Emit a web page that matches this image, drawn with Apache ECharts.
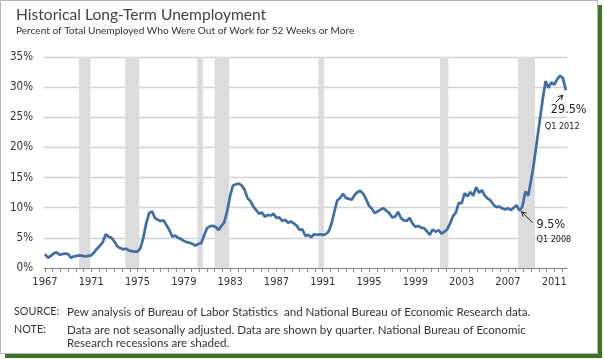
<!DOCTYPE html>
<html>
<head>
<meta charset="utf-8">
<script src="https://cdn.jsdelivr.net/npm/echarts@6/dist/echarts.min.js"></script>
<style>
html,body{margin:0;padding:0;background:#fff;}
#c{width:604px;height:359px;}
</style>
</head>
<body>
<div id="c"></div>
<script>
// ---- data ----
const startYear = 1967; // first quarter: 1967 Q1, quarterly through 2012 Q1
const longTermShare = [
  2.3, 1.7, 2.0, 2.4, 2.6, 2.2, 2.3, 2.4, 2.3, 1.7,
  1.9, 2.0, 2.1, 2.0, 1.9, 2.0, 2.1, 2.6, 3.2, 3.7,
  4.3, 5.6, 5.2, 5.0, 4.4, 3.6, 3.3, 3.1, 3.2, 2.9,
  2.8, 2.7, 2.7, 3.3, 5.0, 7.4, 9.1, 9.4, 8.3, 8.0,
  7.8, 7.9, 7.1, 6.3, 5.2, 5.4, 5.0, 4.8, 4.5, 4.3,
  4.2, 4.0, 3.7, 4.0, 4.1, 5.4, 6.6, 6.9, 7.0, 6.8,
  6.3, 7.0, 7.6, 9.5, 12.0, 13.7, 13.9, 14.0, 13.7, 13.0,
  11.6, 11.1, 10.2, 9.6, 9.0, 9.2, 8.5, 8.8, 8.7, 9.0,
  8.3, 8.4, 7.8, 8.0, 7.5, 7.7, 7.4, 7.0, 6.3, 6.4,
  5.3, 5.5, 5.1, 5.6, 5.5, 5.6, 5.5, 5.6, 6.0, 7.3,
  9.3, 11.2, 11.6, 12.3, 11.6, 11.5, 11.3, 12.1, 12.6, 12.8,
  12.3, 11.4, 10.3, 9.8, 9.1, 9.4, 9.7, 9.9, 9.5, 9.1,
  8.4, 8.5, 9.3, 8.3, 7.9, 7.8, 8.3, 7.4, 6.8, 7.0,
  6.7, 6.6, 6.1, 5.5, 6.4, 6.0, 6.3, 5.7, 6.0, 6.4,
  7.4, 8.6, 9.2, 10.8, 10.7, 12.4, 11.9, 12.6, 12.0, 13.4,
  12.5, 12.9, 12.0, 11.5, 11.2, 10.5, 10.1, 10.2, 9.9, 9.7,
  9.9, 9.6, 10.0, 10.4, 9.5, 10.2, 12.7, 12.0, 14.6, 17.5,
  21.0, 24.5, 28.0, 31.0, 29.9, 30.8, 30.4, 31.3, 31.9, 31.5, 29.5
];
// NBER recessions (start, end as fractional years, as shaded in the chart)
const recessions = [
  [1969.95, 1970.93], [1973.93, 1975.15], [1980.17, 1980.65], [1981.65, 1982.92],
  [1990.62, 1991.10], [2001.13, 2001.85], [2007.88, 2009.34]
];
const xTickLabels = [1967, 1971, 1975, 1979, 1983, 1987, 1991, 1995, 1999, 2003, 2007, 2011];
const yTicks = [0, 5, 10, 15, 20, 25, 30, 35];
const annotations = [
  { index: 164, value: '9.5%', period: 'Q1 2008' },
  { index: 180, value: '29.5%', period: 'Q1 2012' }
];
const titleText = 'Historical Long-Term Unemployment';
const subtitleText = 'Percent of Total Unemployed Who Were Out of Work for 52 Weeks or More';
const sourceText = 'Pew analysis of Bureau of Labor Statistics  and National Bureau of Economic Research data.';
const noteLines = ['Data are not seasonally adjusted. Data are shown by quarter. National Bureau of Economic', 'Research recessions are shaded.'];

// ---- build ----
const seriesData = longTermShare.map((v, i) => [startYear + i / 4, v]);
const minorTicks = [];
for (let k = 0; k <= 68; k++) minorTicks.push(startYear + k * 2 / 3);

const narrow = "'Liberation Sans Narrow', 'DejaVu Sans Condensed', Lato, sans-serif";
const chart = echarts.init(document.getElementById('c'), null, { renderer: 'canvas' });

chart.setOption({
  animation: false,
  backgroundColor: '#fff',
  title: {
    text: titleText,
    subtext: subtitleText,
    left: 11, top: 2,
    itemGap: 3,
    textStyle: { fontFamily: 'Lato', fontSize: 15.6, fontWeight: 'normal', color: '#444' },
    subtextStyle: { fontFamily: 'Lato', fontSize: 10.1, color: '#333' }
  },
  grid: { left: 44, right: 37, top: 57, bottom: 91, containLabel: false },
  xAxis: {
    type: 'value', min: 1966.92, max: 2012.1,
    splitLine: { show: false },
    axisLine: { show: true, lineStyle: { color: '#8a8a8a', width: 1 } },
    axisTick: { show: true, customValues: minorTicks, length: 4, lineStyle: { color: '#8a8a8a' } },
    axisLabel: { customValues: xTickLabels, fontFamily: narrow, fontSize: 11, color: '#333', margin: 9,
      formatter: v => String(Math.round(v)) }
  },
  yAxis: {
    type: 'value', min: 0, max: 35, interval: 5,
    axisLine: { show: false }, axisTick: { show: false },
    splitLine: { lineStyle: { color: '#d2d2d2', width: 1.3 } },
    axisLabel: { fontFamily: narrow, fontSize: 11.5, color: '#333', margin: 11, formatter: '{value}%' }
  },
  series: [
    {
      type: 'line', data: [], silent: true, z: 1,
      markArea: {
        silent: true,
        itemStyle: { color: '#dcdcdc' },
        data: recessions.map(r => [{ xAxis: r[0] }, { xAxis: r[1] }])
      }
    },
    {
      type: 'line', data: seriesData, showSymbol: false, z: 5,
      lineStyle: { color: '#3d6ea8', width: 2.7 },
      itemStyle: { color: '#3d6ea8' }
    }
  ]
});

// annotations placed relative to their data points
const g = [];
function arrow(x1, y1, x2, y2) {
  const ang = Math.atan2(y2 - y1, x2 - x1), L = 5, a = 0.5;
  g.push({ type: 'line', shape: { x1, y1, x2, y2 }, style: { stroke: '#222', lineWidth: 1 }, z: 10 });
  g.push({ type: 'polyline', shape: { points: [
    [x2 - L * Math.cos(ang - a), y2 - L * Math.sin(ang - a)], [x2, y2],
    [x2 - L * Math.cos(ang + a), y2 - L * Math.sin(ang + a)]] }, style: { stroke: '#222', lineWidth: 1, fill: null }, z: 10 });
}
const offs = [
  { tail: [13, 12], head: [2, 1], val: [17, 8], per: [17, 24] },
  { tail: [-10, 12], head: [-3, 5], val: [-15, 13], per: [-21, 32] }
];
annotations.forEach((a, k) => {
  const p = chart.convertToPixel({ xAxisIndex: 0, yAxisIndex: 0 }, seriesData[a.index]);
  const o = offs[k];
  arrow(p[0] + o.tail[0], p[1] + o.tail[1], p[0] + o.head[0], p[1] + o.head[1]);
  g.push({ type: 'text', x: p[0] + o.val[0], y: p[1] + o.val[1], style: { text: a.value, font: '12.5px ' + narrow, fill: '#222' }, z: 10 });
  g.push({ type: 'text', x: p[0] + o.per[0], y: p[1] + o.per[1], style: { text: a.period, font: '9px ' + narrow, fill: '#222' }, z: 10 });
});
// footnotes
const fnFont = '11.6px Lato';
const lbFont = '10.8px Lato';
g.push({ type: 'text', x: 14, y: 306, style: { text: 'SOURCE:', font: lbFont, fill: '#333' } });
g.push({ type: 'text', x: 67, y: 306, style: { text: sourceText, font: fnFont, fill: '#333' } });
g.push({ type: 'text', x: 14, y: 324, style: { text: 'NOTE:', font: lbFont, fill: '#333' } });
g.push({ type: 'text', x: 67, y: 324, style: { text: noteLines[0], font: fnFont, fill: '#333' } });
g.push({ type: 'text', x: 67, y: 337, style: { text: noteLines[1], font: fnFont, fill: '#333' } });
// frame
g.push({ type: 'rect', shape: { x: 0.5, y: 0.5, width: 597, height: 353 }, style: { stroke: '#b5b5b5', fill: null, lineWidth: 1 }, z: 20 });
g.push({ type: 'rect', shape: { x: 598, y: 5, width: 4, height: 353 }, style: { fill: '#3e7424' }, z: 20 });
g.push({ type: 'rect', shape: { x: 5, y: 354, width: 597, height: 4 }, style: { fill: '#3e7424' }, z: 20 });
chart.setOption({ graphic: g });
</script>
</body>
</html>
